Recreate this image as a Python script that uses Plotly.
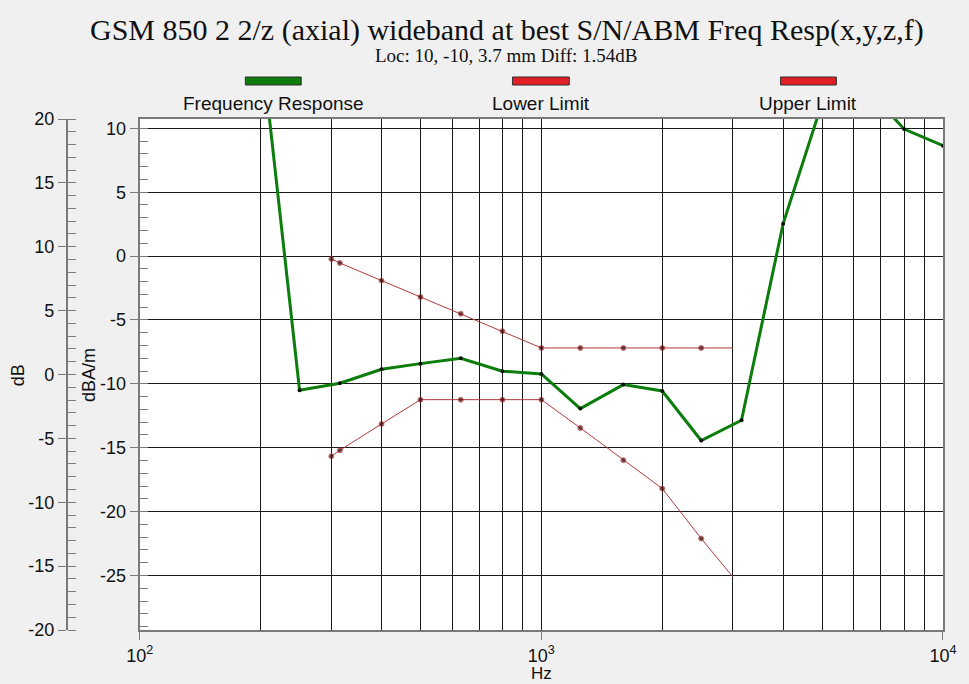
import plotly.graph_objects as go

# ---------------- data ----------------
resp_freq = [200, 250, 315, 400, 500, 630, 800, 1000, 1250, 1600, 2000, 2500, 3150, 4000, 5000, 6300, 8000, 10000]
resp_val = [17.0, -10.50, -9.95, -8.86, -8.42, -8.00, -9.01, -9.23, -11.94, -10.06, -10.56, -14.44, -12.85, 2.54, 12.0, 13.5, 9.94, 8.64]

limit_freq = [300, 315, 400, 500, 630, 800, 1000, 1250, 1600, 2000, 2500, 3000]
upper_val = [-0.23, -0.54, -1.92, -3.20, -4.51, -5.88, -7.19, -7.19, -7.19, -7.19, -7.19, -7.19]
lower_val = [-15.67, -15.20, -13.14, -11.24, -11.24, -11.24, -11.24, -13.45, -15.98, -18.20, -22.11, -25.13]

x_tick_vals = [100, 1000, 10000]
x_tick_text = ["10<sup>2</sup>", "10<sup>3</sup>", "10<sup>4</sup>"]
x_grid_vals = [200, 300, 400, 500, 600, 700, 800, 900, 2000, 3000, 4000, 5000, 6000, 7000, 8000, 9000]

y_field_ticks = [-25, -20, -15, -10, -5, 0, 5, 10]      # dBA/m axis
y_db_ticks = [-20, -15, -10, -5, 0, 5, 10, 15, 20]      # dB axis

title_text = "GSM 850 2 2/z (axial) wideband at best S/N/ABM Freq Resp(x,y,z,f)"
subtitle_text = "Loc: 10, -10, 3.7 mm Diff: 1.54dB"
legend_names = ["Frequency Response", "Lower Limit", "Upper Limit"]

# ---------------- layout geometry ----------------
W, H = 969, 684
ML, MR, MT, MB = 60, 23, 119, 54
PW, PH = W - ML - MR, H - MT - MB


def fx(px):
    return (px - ML) / PW


def fy(py):
    return (H - MB - py) / PH


SANS = "Liberation Sans, Arial, sans-serif"
SERIF = "Liberation Serif, Times New Roman, serif"
GREEN = "#0c7d0c"
LIMIT_LINE = "#b23a3a"
LIMIT_MARK = "#3a0000"
AXIS_GREY = "#7a7a7a"
FS = 18

fig = go.Figure()

fig.add_trace(go.Scatter(
    x=limit_freq, y=upper_val, mode="lines+markers", name=legend_names[2],
    line=dict(color=LIMIT_LINE, width=1),
    marker=dict(color=LIMIT_MARK, size=[5] * (len(limit_freq) - 1) + [0]),
    showlegend=False, cliponaxis=True))
fig.add_trace(go.Scatter(
    x=limit_freq, y=lower_val, mode="lines+markers", name=legend_names[1],
    line=dict(color=LIMIT_LINE, width=1),
    marker=dict(color=LIMIT_MARK, size=[5] * (len(limit_freq) - 1) + [0]),
    showlegend=False, cliponaxis=True))
fig.add_trace(go.Scatter(
    x=resp_freq, y=resp_val, mode="lines+markers", name=legend_names[0],
    line=dict(color=GREEN, width=3),
    marker=dict(color="#101010", size=4),
    showlegend=False, cliponaxis=True))
# anchor trace so the secondary dB axis is drawn
fig.add_trace(go.Scatter(x=[1000], y=[0], yaxis="y2", mode="markers",
                         marker=dict(opacity=0), hoverinfo="skip", showlegend=False))

fig.update_layout(
    width=W, height=H,
    margin=dict(l=ML, r=MR, t=MT, b=MB),
    paper_bgcolor="#f0f0f0", plot_bgcolor="white",
    font=dict(family=SANS, size=FS, color="#111"),
    xaxis=dict(
        type="log", range=[2, 4], domain=[fx(140), 1],
        tickmode="array", tickvals=x_tick_vals, ticktext=x_tick_text,
        ticks="outside", ticklen=8, tickcolor=AXIS_GREY, tickwidth=1,
        ticklabelstandoff=0,
        showgrid=True, gridcolor="#1a1a1a", gridwidth=1,
        minor=dict(tickmode="array", tickvals=x_grid_vals, showgrid=True,
                   gridcolor="#1a1a1a", gridwidth=1, ticks=""),
        showline=True, linecolor=AXIS_GREY, linewidth=2, mirror=True,
        zeroline=False, tickfont=dict(family=SANS, size=FS)),
    yaxis=dict(
        range=[-29.27, 10.73], tickmode="array", tickvals=y_field_ticks,
        ticktext=[str(v) for v in y_field_ticks],
        ticks="outside", ticklen=8, tickcolor=AXIS_GREY, tickwidth=1,
        showgrid=True, gridcolor="#1a1a1a", gridwidth=1,
        minor=dict(dtick=1, tick0=0, ticks="inside", ticklen=8, tickcolor=AXIS_GREY, showgrid=False),
        showline=True, linecolor=AXIS_GREY, linewidth=2, mirror=True,
        zeroline=False, tickfont=dict(family=SANS, size=FS)),
    yaxis2=dict(
        overlaying="y", anchor="free", position=fx(67), side="left",
        range=[-20, 20], tickmode="array", tickvals=y_db_ticks,
        ticktext=[str(v) for v in y_db_ticks],
        ticks="outside", ticklen=8, tickcolor=AXIS_GREY, tickwidth=1,
        minor=dict(dtick=1, tick0=0, ticks="inside", ticklen=8, tickcolor=AXIS_GREY, showgrid=False),
        showgrid=False, zeroline=False,
        showline=True, linecolor=AXIS_GREY, linewidth=2,
        tickfont=dict(family=SANS, size=FS)),
)

annotations = [
    dict(text=title_text, x=fx(509), y=fy(30), font=dict(family=SERIF, size=30, color="#111")),
    dict(text=subtitle_text, x=fx(508), y=fy(55), font=dict(family=SERIF, size=19, color="#111")),
    dict(text=legend_names[0], x=fx(274), y=fy(104), font=dict(family=SANS, size=FS + 1)),
    dict(text=legend_names[1], x=fx(543), y=fy(104), font=dict(family=SANS, size=FS + 1)),
    dict(text=legend_names[2], x=fx(811), y=fy(104), font=dict(family=SANS, size=FS + 1)),
    dict(text="dB", x=fx(18), y=fy(375), textangle=-90, font=dict(family=SANS, size=FS)),
    dict(text="dBA/m", x=fx(89), y=fy(375), textangle=-90, font=dict(family=SANS, size=FS)),
]
for a in annotations:
    a.update(xref="paper", yref="paper", showarrow=False, xanchor="center", yanchor="middle")
annotations.append(dict(text="Hz", x=fx(543), y=fy(684), xref="paper", yref="paper",
                        showarrow=False, xanchor="center", yanchor="bottom",
                        borderpad=0, font=dict(family=SANS, size=17)))
fig.update_layout(annotations=annotations)

legend_bars = [(246, 302, GREEN), (514, 571, "#e01e24"), (783, 839, "#e01e24")]
shapes = []
for x0, x1, col in legend_bars:
    shapes.append(dict(type="rect", xref="paper", yref="paper",
                       x0=fx(x0), x1=fx(x1), y0=fy(85), y1=fy(77),
                       fillcolor=col, line=dict(color="#303030", width=1)))
fig.update_layout(shapes=shapes)

fig.write_html(
    "out.html",
    config={"displayModeBar": False},
    post_script="document.body.style.margin='0';document.body.style.background='#f0f0f0';"
                "document.body.style.overflow='hidden';",
)
